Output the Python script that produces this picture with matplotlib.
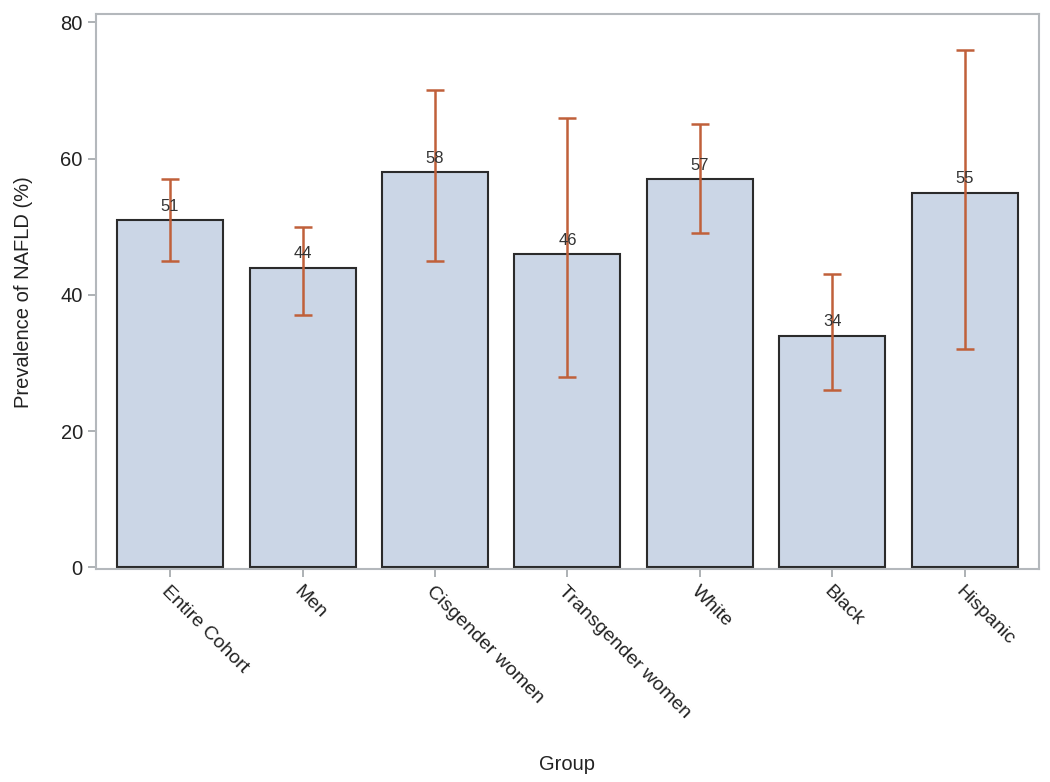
import matplotlib
matplotlib.use("Agg")
import matplotlib.pyplot as plt

groups = ["Entire Cohort", "Men", "Cisgender women", "Transgender women",
          "White", "Black", "Hispanic"]
prevalence = [51, 44, 58, 46, 57, 34, 55]
ci_low = [45, 37, 45, 28, 49, 26, 32]
ci_high = [57, 50, 70, 66, 65, 43, 76]

plt.rcParams["font.family"] = ["Liberation Sans", "DejaVu Sans"]

fig = plt.figure(figsize=(10.5, 7.82), dpi=100)
ax = fig.add_axes([0.0914, 0.272, 0.8981, 0.71])

x = list(range(len(groups)))
ax.bar(x, prevalence, width=0.8, color="#cbd6e6", edgecolor="#2b2b2b",
       linewidth=1.5, zorder=2)

lower = [p - lo for p, lo in zip(prevalence, ci_low)]
upper = [hi - p for p, hi in zip(prevalence, ci_high)]
ax.errorbar(x, prevalence, yerr=[lower, upper], fmt="none",
            ecolor="#c0603a", elinewidth=1.8, capsize=6.5, capthick=1.8,
            zorder=3)

for xi, p in zip(x, prevalence):
    ax.text(xi, p + 0.9, str(p), ha="center", va="bottom", fontsize=12,
            color="#333333", zorder=4)

ax.set_xlim(-0.56, 6.56)
ax.set_ylim(-0.3, 81.2)
ax.set_yticks([0, 20, 40, 60, 80])
ax.set_xticks(x)
ax.set_xticklabels(groups, rotation=-45, ha="left", rotation_mode="anchor",
                   fontsize=14)
ax.tick_params(axis="y", labelsize=14.5)
ax.tick_params(axis="both", colors="#a0a4a8", length=6, width=1.2,
               labelcolor="#222222")
for s in ax.spines.values():
    s.set_color("#b4b8bc")
    s.set_linewidth(1.5)

ax.set_ylabel("Prevalence of NAFLD (%)", fontsize=14.5, color="#222222",
              labelpad=20)
ax.set_xlabel("Group", fontsize=14.5, color="#222222", labelpad=24)

fig.savefig("out.png", dpi=100)
